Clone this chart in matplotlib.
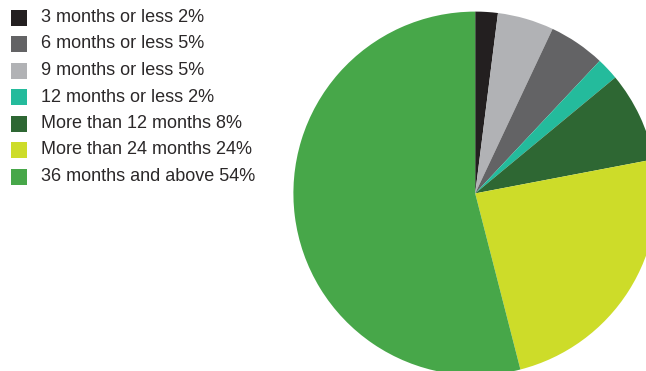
import matplotlib.pyplot as plt
from matplotlib.patches import Rectangle

plt.rcParams["font.family"] = ["Liberation Sans", "DejaVu Sans"]

# legend order
labels = [
    "3 months or less 2%",
    "6 months or less 5%",
    "9 months or less 5%",
    "12 months or less 2%",
    "More than 12 months 8%",
    "More than 24 months 24%",
    "36 months and above 54%",
]
values = [2, 5, 5, 2, 8, 24, 54]
colors = ["#231f20", "#636365", "#b1b2b5", "#24bb9c", "#2e6733", "#cddc29", "#47a749"]

# order the slices are drawn clockwise from 12 o'clock
pie_order = [0, 2, 1, 3, 4, 5, 6]

W, H = 646, 371
fig = plt.figure(figsize=(W / 100, H / 100), dpi=100)
ax = fig.add_axes([0, 0, 1, 1])

ax.pie(
    [values[i] for i in pie_order],
    colors=[colors[i] for i in pie_order],
    startangle=90,
    counterclock=False,
    center=(475.2, 177.6),
    radius=181.8,
    wedgeprops=dict(linewidth=0),
)
ax.set_xlim(0, W)
ax.set_ylim(0, H)
ax.set_aspect("equal")
ax.axis("off")

# hand-drawn legend, pixel layout
row_y0, row_step = 17.5, 26.5
for i, (lab, col) in enumerate(zip(labels, colors)):
    yc = H - (row_y0 + i * row_step)
    ax.add_patch(Rectangle((11, yc - 8), 16, 16, facecolor=col, edgecolor="none"))
    ax.text(41, yc, lab, fontsize=13.0, color="#2b2829", va="center", ha="left")

fig.savefig("out.png", dpi=100)
